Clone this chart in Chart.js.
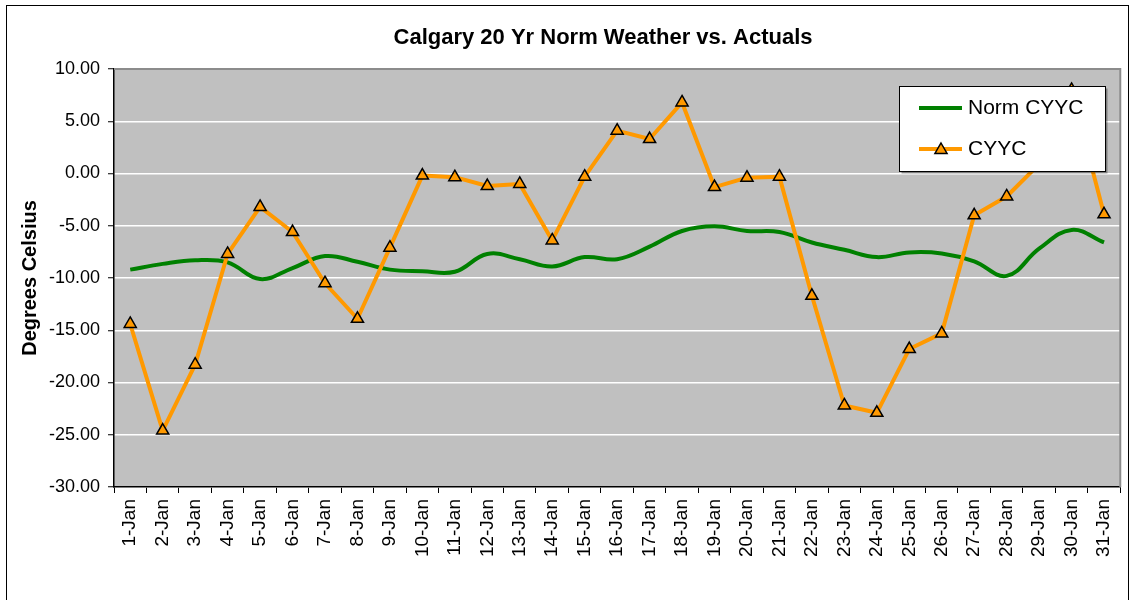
<!DOCTYPE html>
<html>
<head>
<meta charset="utf-8">
<script src="https://cdn.jsdelivr.net/npm/chart.js@4.4.1/dist/chart.umd.min.js"></script>
<style>
html,body{margin:0;padding:0;background:#fff;}
canvas{display:block;}
</style>
</head>
<body>
<canvas id="c" width="1133" height="600"></canvas>
<script>
const categories = ['1-Jan','2-Jan','3-Jan','4-Jan','5-Jan','6-Jan','7-Jan','8-Jan','9-Jan','10-Jan',
  '11-Jan','12-Jan','13-Jan','14-Jan','15-Jan','16-Jan','17-Jan','18-Jan','19-Jan','20-Jan',
  '21-Jan','22-Jan','23-Jan','24-Jan','25-Jan','26-Jan','27-Jan','28-Jan','29-Jan','30-Jan','31-Jan'];
const normCYYC = [-9.2, -8.65, -8.3, -8.5, -10.1, -9.05, -7.9, -8.45, -9.2, -9.35,
  -9.4, -7.7, -8.2, -8.9, -8.0, -8.2, -7.0, -5.5, -5.05, -5.5,
  -5.6, -6.6, -7.3, -8.0, -7.55, -7.65, -8.4, -9.8, -7.2, -5.4, -6.6];
const actualCYYC = [-14.4, -24.6, -18.3, -7.7, -3.2, -5.6, -10.5, -13.9, -7.1, -0.2,
  -0.35, -1.2, -1.0, -6.4, -0.3, 4.1, 3.3, 6.8, -1.3, -0.4,
  -0.3, -11.7, -22.2, -22.9, -16.8, -15.3, -4.0, -2.2, 0.9, 8.0, -3.9];
const yTickValues = [10, 5, 0, -5, -10, -15, -20, -25, -30];
const seriesNames = ['Norm CYYC', 'CYYC'];
const chartTitle = 'Calgary 20 Yr Norm Weather vs. Actuals';
const yAxisTitle = 'Degrees Celsius';

const FONT = '"Liberation Sans", Arial, Helvetica, sans-serif';
Chart.defaults.font.family = FONT;
Chart.defaults.color = '#000';

const decor = {
  id: 'decor',
  beforeDraw(chart) {
    const {ctx, chartArea: a} = chart;
    ctx.save();
    ctx.fillStyle = '#fff';
    ctx.fillRect(0, 0, chart.width, chart.height);
    ctx.fillStyle = '#C0C0C0';
    ctx.fillRect(a.left, a.top, a.right - a.left, a.bottom - a.top);
    ctx.restore();
  },
  beforeDatasetsDraw(chart) {
    const {ctx, chartArea: a} = chart;
    ctx.save();
    ctx.strokeStyle = '#8C8C8C';
    ctx.lineWidth = 2;
    ctx.beginPath();
    ctx.moveTo(a.left, a.top);
    ctx.lineTo(a.right, a.top);
    ctx.lineTo(a.right, a.bottom);
    ctx.stroke();
    ctx.restore();
  },
  afterDatasetsDraw(chart) {
    const ctx = chart.ctx;
    ctx.save();
    const bx = 899.5, by = 86.5, bw = 206, bh = 85;
    ctx.fillStyle = 'rgba(0,0,0,0.35)';
    ctx.fillRect(bx + 2, by + 2, bw, bh);
    ctx.fillStyle = '#fff';
    ctx.fillRect(bx, by, bw, bh);
    ctx.strokeStyle = '#000';
    ctx.lineWidth = 1;
    ctx.strokeRect(bx, by, bw, bh);
    chart.data.datasets.forEach((ds, i) => {
      const cy = 108 + i * 41;
      ctx.strokeStyle = ds.borderColor;
      ctx.lineWidth = 4;
      ctx.lineCap = 'butt';
      ctx.beginPath();
      ctx.moveTo(919, cy);
      ctx.lineTo(962, cy);
      ctx.stroke();
      if (ds.pointRadius > 0) {
        ctx.fillStyle = ds.pointBackgroundColor;
        ctx.strokeStyle = ds.pointBorderColor;
        ctx.lineWidth = ds.pointBorderWidth;
        const r = ds.pointRadius, x = 941, y = cy + 1;
        ctx.beginPath();
        ctx.moveTo(x, y - r);
        ctx.lineTo(x + r * 0.866, y + r / 2);
        ctx.lineTo(x - r * 0.866, y + r / 2);
        ctx.closePath();
        ctx.fill();
        ctx.stroke();
      }
      ctx.fillStyle = '#000';
      ctx.font = '21px ' + FONT;
      ctx.textBaseline = 'middle';
      ctx.textAlign = 'left';
      ctx.fillText(ds.label, 968, cy);
    });
    ctx.restore();
  },
  afterLayout(chart) {
    if (chart.titleBlock) {
      chart.titleBlock.left = 83;
      chart.titleBlock.right = 1123;
    }
  },
  afterDraw(chart) {
    const ctx = chart.ctx;
    ctx.save();
    ctx.strokeStyle = '#000';
    ctx.lineWidth = 1;
    ctx.strokeRect(6.5, 5.5, 1122, 700);
    ctx.restore();
  }
};

new Chart(document.getElementById('c'), {
  type: 'line',
  data: {
    labels: categories,
    datasets: [
      {
        label: seriesNames[0],
        data: normCYYC,
        borderColor: '#008000',
        backgroundColor: '#008000',
        borderWidth: 4,
        tension: 0.4,
        pointRadius: 0,
        pointHoverRadius: 0,
        fill: false,
        order: 1
      },
      {
        label: seriesNames[1],
        data: actualCYYC,
        borderColor: '#FF9900',
        backgroundColor: '#FF9900',
        borderWidth: 4,
        tension: 0,
        borderJoinStyle: 'round',
        pointStyle: 'triangle',
        pointRadius: 7,
        pointHoverRadius: 7,
        pointBackgroundColor: '#FF9900',
        pointBorderColor: '#000',
        pointBorderWidth: 1.5,
        fill: false,
        order: 0
      }
    ]
  },
  options: {
    responsive: false,
    animation: false,
    devicePixelRatio: 1,
    layout: { padding: { left: 0, right: 10, top: 25, bottom: 0 } },
    plugins: {
      legend: { display: false },
      tooltip: { enabled: false },
      title: {
        display: true,
        text: chartTitle,
        font: { size: 22, weight: 'bold', family: FONT },
        color: '#000',
        padding: { top: 0, bottom: 17.6 }
      }
    },
    scales: {
      x: {
        type: 'category',
        offset: true,
        grid: {
          display: true,
          drawOnChartArea: false,
          drawTicks: true,
          tickLength: 6,
          tickColor: '#000',
          tickWidth: 1,
          offset: true
        },
        border: { display: true, color: '#000', width: 1.5 },
        ticks: {
          autoSkip: false,
          minRotation: 90,
          maxRotation: 90,
          padding: 6,
          font: { size: 19, family: FONT },
          color: '#000'
        },
        afterFit(scale) { scale.height = 113; }
      },
      y: {
        min: -30,
        max: 10,
        afterBuildTicks(scale) {
          scale.ticks = yTickValues.map(v => ({ value: v }));
        },
        grid: {
          color: '#FFFFFF',
          lineWidth: 1.5,
          drawTicks: true,
          tickLength: 6,
          tickColor: '#000',
          tickWidth: 1
        },
        border: { display: true, color: '#000', width: 1.5 },
        ticks: {
          padding: 8,
          font: { size: 18, family: FONT },
          color: '#000',
          callback: (v) => Number(v).toFixed(2)
        },
        title: {
          display: true,
          text: yAxisTitle,
          font: { size: 20, weight: 'bold', family: FONT },
          color: '#000',
          padding: { top: 18, bottom: 0 }
        },
        afterFit(scale) { scale.width = 114; }
      }
    }
  },
  plugins: [decor]
});
</script>
</body>
</html>
